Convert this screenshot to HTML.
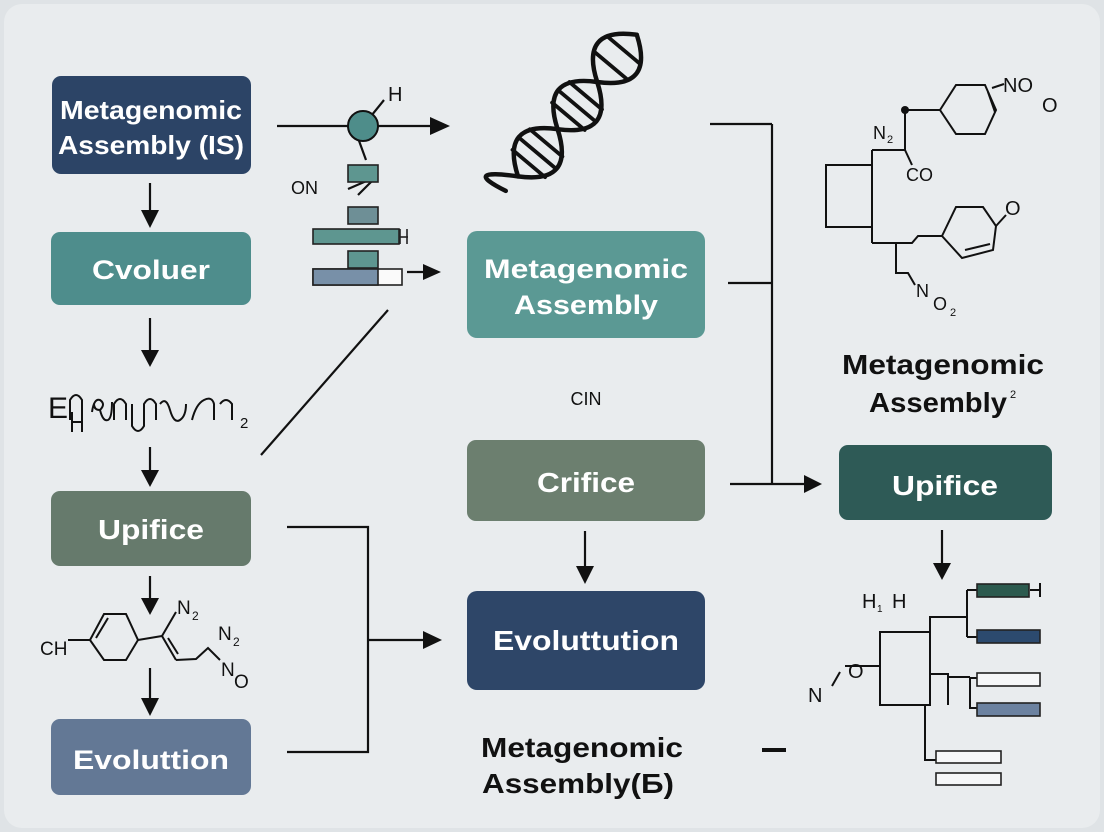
<!DOCTYPE html>
<html><head><meta charset="utf-8">
<style>
html,body{margin:0;padding:0;background:#e9ecee;}
svg{display:block;}
text{font-family:"Liberation Sans","DejaVu Sans",sans-serif;}
</style></head>
<body>
<svg width="1104" height="832" viewBox="0 0 1104 832" xmlns="http://www.w3.org/2000/svg">
<rect x="0" y="0" width="1104" height="832" fill="#dfe3e6"/>
<rect x="4" y="4" width="1096" height="824" rx="18" fill="#e9ecee"/>

<g stroke="#111" stroke-width="2.2" fill="none">
<line x1="150" y1="183" x2="150" y2="212"/>
<line x1="150" y1="318" x2="150" y2="352"/>
<line x1="150" y1="447" x2="150" y2="472"/>
<line x1="150" y1="576" x2="150" y2="600"/>
<line x1="150" y1="668" x2="150" y2="700"/>
<line x1="277" y1="126" x2="432" y2="126"/>
<line x1="363" y1="126" x2="384" y2="100"/>
<line x1="358" y1="138" x2="366" y2="160"/>
<line x1="348" y1="189" x2="378" y2="176"/>
<line x1="358" y1="195" x2="377" y2="176"/>
<line x1="407" y1="272" x2="425" y2="272"/>
<line x1="261" y1="455" x2="388" y2="310"/>
<polyline points="287,527 368,527 368,752 287,752"/>
<line x1="368" y1="640" x2="425" y2="640"/>
<line x1="585" y1="531" x2="585" y2="568"/>
<line x1="710" y1="124" x2="772" y2="124"/>
<line x1="772" y1="124" x2="772" y2="485"/>
<line x1="728" y1="283" x2="772" y2="283"/>
<line x1="730" y1="484" x2="806" y2="484"/>
<line x1="942" y1="530" x2="942" y2="565"/>
</g>
<g fill="#111">
<polygon points="141,210 159,210 150,228"/>
<polygon points="141,350 159,350 150,367"/>
<polygon points="141,470 159,470 150,487"/>
<polygon points="141,598 159,598 150,615"/>
<polygon points="141,698 159,698 150,716"/>
<polygon points="430,117 450,126 430,135"/>
<polygon points="423,264 441,272 423,280"/>
<polygon points="423,631 442,640 423,649"/>
<polygon points="576,566 594,566 585,584"/>
<polygon points="804,475 822,484 804,493"/>
<polygon points="933,563 951,563 942,580"/>
<rect x="762" y="748" width="24" height="4"/>
</g>

<circle cx="363" cy="126" r="15" fill="#4e8d8a" stroke="#111" stroke-width="2"/>
<text x="388" y="101" font-size="20" fill="#111">H</text>
<text x="291" y="194" font-size="18" fill="#111">ON</text>
<g stroke="#222" stroke-width="1.6">
<rect x="348" y="165" width="30" height="17" fill="#5e9690"/>
<rect x="348" y="207" width="30" height="17" fill="#6e8f96"/>
<rect x="313" y="229" width="86" height="15" fill="#5e9690"/>
<rect x="348" y="251" width="30" height="17" fill="#5e9690"/>
<rect x="313" y="269" width="89" height="16" fill="#fafafa"/>
<rect x="313" y="269" width="65" height="16" fill="#7890a8"/>
</g>
<line x1="400" y1="229" x2="400" y2="244" stroke="#222" stroke-width="1.6"/>
<line x1="400" y1="237" x2="408" y2="237" stroke="#222" stroke-width="1.6"/>
<line x1="407" y1="229" x2="407" y2="244" stroke="#222" stroke-width="1.6"/>

<!-- DNA helix -->
<g transform="translate(572,112) rotate(40) scale(1.12)" stroke="#111" stroke-width="4" fill="none" stroke-linecap="round">
<path d="M0,-90 Q44,-62.5 0,-35 T0,20 T0,75 T0,92"/>
<path d="M0,-90 Q-44,-62.5 0,-35 T0,20 T0,75"/>
<g stroke-width="3.4">
<line x1="-19" y1="-72" x2="19" y2="-72"/>
<line x1="-19" y1="-54" x2="19" y2="-54"/>
<line x1="-19" y1="-19" x2="19" y2="-19"/>
<line x1="-22" y1="-7" x2="22" y2="-7"/>
<line x1="-19" y1="5" x2="19" y2="5"/>
<line x1="-19" y1="36" x2="19" y2="36"/>
<line x1="-22" y1="48" x2="22" y2="48"/>
<line x1="-19" y1="60" x2="19" y2="60"/>
</g>
</g>

<rect x="52" y="76" width="199" height="98" rx="9" fill="#2c4466"/>
<text x="151" y="119" font-size="26" font-weight="bold" fill="#fff" text-anchor="middle" textLength="182" lengthAdjust="spacingAndGlyphs">Metagenomic</text>
<text x="151" y="154" font-size="26" font-weight="bold" fill="#fff" text-anchor="middle" textLength="186" lengthAdjust="spacingAndGlyphs">Assembly (IS)</text>

<rect x="51" y="232" width="200" height="73" rx="9" fill="#4e8d8c"/>
<text x="151" y="279" font-size="27" font-weight="bold" fill="#fff" text-anchor="middle" textLength="118" lengthAdjust="spacingAndGlyphs">Cvoluer</text>

<rect x="51" y="491" width="200" height="75" rx="9" fill="#667a6c"/>
<text x="151" y="539" font-size="28" font-weight="bold" fill="#fff" text-anchor="middle" textLength="106" lengthAdjust="spacingAndGlyphs">Upifice</text>

<rect x="51" y="719" width="200" height="76" rx="9" fill="#637895"/>
<text x="151" y="769" font-size="27" font-weight="bold" fill="#fff" text-anchor="middle" textLength="156" lengthAdjust="spacingAndGlyphs">Evoluttion</text>

<rect x="467" y="231" width="238" height="107" rx="10" fill="#5b9994"/>
<text x="586" y="278" font-size="27" font-weight="bold" fill="#fff" text-anchor="middle" textLength="204" lengthAdjust="spacingAndGlyphs">Metagenomic</text>
<text x="586" y="314" font-size="27" font-weight="bold" fill="#fff" text-anchor="middle" textLength="144" lengthAdjust="spacingAndGlyphs">Assembly</text>

<rect x="467" y="440" width="238" height="81" rx="9" fill="#6c7f6f"/>
<text x="586" y="492" font-size="28" font-weight="bold" fill="#fff" text-anchor="middle" textLength="98" lengthAdjust="spacingAndGlyphs">Crifice</text>

<rect x="467" y="591" width="238" height="99" rx="10" fill="#2e4668"/>
<text x="586" y="650" font-size="28" font-weight="bold" fill="#fff" text-anchor="middle" textLength="186" lengthAdjust="spacingAndGlyphs">Evoluttution</text>

<rect x="839" y="445" width="213" height="75" rx="9" fill="#2e5a56"/>
<text x="945" y="495" font-size="28" font-weight="bold" fill="#fff" text-anchor="middle" textLength="106" lengthAdjust="spacingAndGlyphs">Upifice</text>

<text x="586" y="405" font-size="18" fill="#111" text-anchor="middle">CIN</text>
<text x="943" y="374" font-size="28" font-weight="bold" fill="#111" text-anchor="middle" textLength="202" lengthAdjust="spacingAndGlyphs">Metagenomic</text>
<text x="938" y="412" font-size="28" font-weight="bold" fill="#111" text-anchor="middle" textLength="138" lengthAdjust="spacingAndGlyphs">Assembly</text>
<text x="1010" y="398" font-size="11" fill="#111">2</text>
<text x="582" y="757" font-size="28" font-weight="bold" fill="#111" text-anchor="middle" textLength="202" lengthAdjust="spacingAndGlyphs">Metagenomic</text>
<text x="578" y="793" font-size="28" font-weight="bold" fill="#111" text-anchor="middle" textLength="192" lengthAdjust="spacingAndGlyphs">Assembly(Б)</text>

<text x="48" y="418" font-size="30" fill="#111">E</text>
<path d="M70,420 L70,400 Q76,390 82,400 L82,424 M72,412 L72,432 M82,412 L82,432 M72,422 L82,422 M92,412 Q94,398 100,400 Q106,404 100,410 Q94,410 94,404 M100,410 Q103,422 108,420 Q112,418 112,402 M114,420 L114,404 Q120,394 126,404 L126,420 M132,404 L132,426 Q138,436 144,426 L144,404 Q150,394 156,404 L156,420 M160,404 Q166,396 170,410 Q174,424 180,420 Q186,416 186,404 M192,420 Q196,404 204,400 Q212,396 214,404 L214,420 M220,404 Q226,396 232,404 L232,420" stroke="#111" stroke-width="2" fill="none"/>
<text x="240" y="428" font-size="15" fill="#111">2</text>

<g stroke="#111" stroke-width="2" fill="none">
<polygon points="90,640 104,614 126,614 138,640 126,660 104,660"/>
<line x1="96" y1="638" x2="108" y2="618"/>
<line x1="68" y1="640" x2="90" y2="640"/>
<line x1="138" y1="640" x2="162" y2="636"/>
<line x1="162" y1="636" x2="176" y2="612"/>
<line x1="162" y1="636" x2="176" y2="660"/>
<line x1="168" y1="638" x2="178" y2="654"/>
<polyline points="176,660 196,659 208,648 220,660"/>
</g>
<text x="40" y="655" font-size="19" fill="#111">CH</text>
<text x="177" y="614" font-size="19" fill="#111">N</text><text x="192" y="620" font-size="12" fill="#111">2</text>
<text x="218" y="640" font-size="19" fill="#111">N</text><text x="233" y="646" font-size="12" fill="#111">2</text>
<text x="221" y="676" font-size="19" fill="#111">N</text><text x="234" y="688" font-size="19" fill="#111">O</text>

<g stroke="#111" stroke-width="2" fill="none">
<line x1="905" y1="110" x2="940" y2="110"/>
<polygon points="940,110 956,85 985,85 996,110 985,134 956,134"/>
<line x1="988" y1="92" x2="995" y2="112"/>
<line x1="992" y1="88" x2="1004" y2="84"/>
<line x1="905" y1="110" x2="905" y2="150"/>
<line x1="905" y1="150" x2="872" y2="150"/>
<line x1="905" y1="150" x2="912" y2="165"/>
<rect x="826" y="165" width="46" height="62"/>
<line x1="872" y1="150" x2="872" y2="243"/>
<polyline points="872,243 912,243 918,236 942,236"/>
<polygon points="942,236 956,207 983,207 996,226 993,250 962,258"/>
<line x1="965" y1="250" x2="990" y2="244"/>
<line x1="996" y1="226" x2="1006" y2="215"/>
<polyline points="896,243 896,273 908,273 915,285"/>
</g>
<circle cx="905" cy="110" r="4" fill="#111"/>
<text x="1003" y="92" font-size="20" fill="#111">NO</text>
<text x="1042" y="112" font-size="20" fill="#111">O</text>
<text x="873" y="139" font-size="18" fill="#111">N</text><text x="887" y="143" font-size="11" fill="#111">2</text>
<text x="906" y="181" font-size="18" fill="#111">CO</text>
<text x="1005" y="215" font-size="20" fill="#111">O</text>
<text x="916" y="297" font-size="18" fill="#111">N</text>
<text x="933" y="310" font-size="18" fill="#111">O</text><text x="950" y="316" font-size="11" fill="#111">2</text>

<g stroke="#111" stroke-width="2" fill="none">
<line x1="845" y1="666" x2="880" y2="666"/>
<line x1="832" y1="686" x2="840" y2="672"/>
<rect x="880" y="632" width="50" height="73"/>
<polyline points="930,632 930,617 967,617"/>
<polyline points="967,590 967,637"/>
<line x1="967" y1="590" x2="978" y2="590"/>
<line x1="967" y1="637" x2="978" y2="637"/>
<polyline points="930,674 948,674 948,705"/>
<polyline points="948,677 970,677"/>
<polyline points="970,677 970,708 978,708"/>
<line x1="970" y1="678" x2="978" y2="678"/>
<polyline points="925,705 925,760 937,760"/>
<line x1="1040" y1="583" x2="1040" y2="597"/>
<line x1="1030" y1="590" x2="1040" y2="590"/>
</g>
<g stroke="#222" stroke-width="1.6">
<rect x="977" y="584" width="52" height="13" fill="#2c5a4e"/>
<rect x="977" y="630" width="63" height="13" fill="#2c4a6e"/>
<rect x="977" y="673" width="63" height="13" fill="#f6f7f8"/>
<rect x="977" y="703" width="63" height="13" fill="#6c82a0"/>
<rect x="936" y="751" width="65" height="12" fill="#f6f7f8"/>
<rect x="936" y="773" width="65" height="12" fill="#f6f7f8"/>
</g>
<text x="862" y="608" font-size="20" fill="#111">H</text>
<text x="877" y="612" font-size="10" fill="#111">1</text>
<text x="892" y="608" font-size="20" fill="#111">H</text>
<text x="848" y="678" font-size="20" fill="#111">O</text>
<text x="808" y="702" font-size="20" fill="#111">N</text>
</svg>
</body></html>
